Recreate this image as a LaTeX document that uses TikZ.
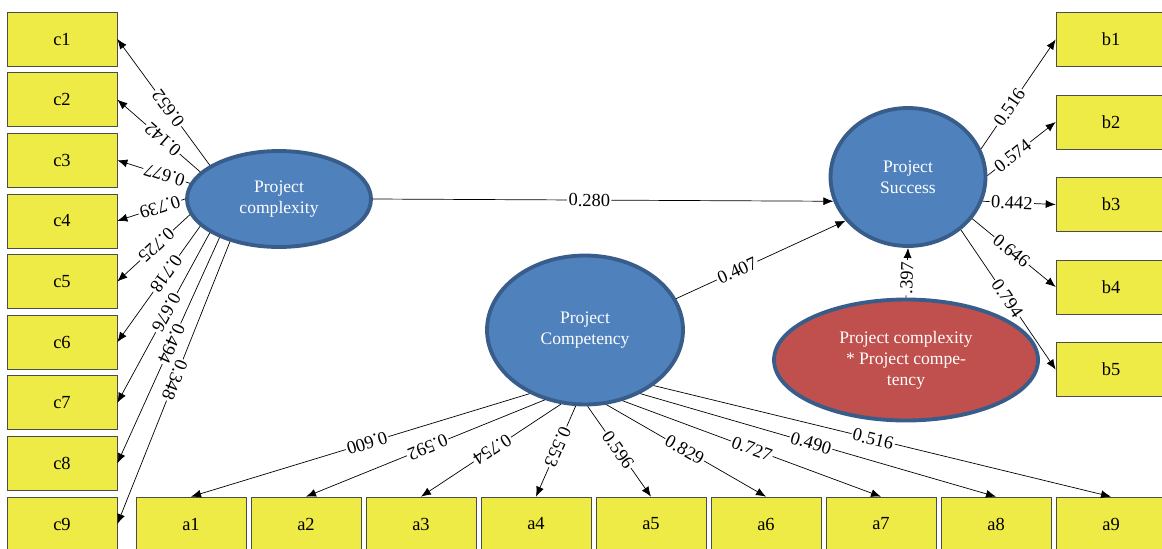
\documentclass[tikz,border=0pt]{standalone}
\usepackage{fontspec}
\setmainfont{Liberation Serif}
\usetikzlibrary{shapes.geometric,arrows.meta}
\definecolor{boxyellow}{RGB}{238,234,70}
\definecolor{latentblue}{RGB}{79,129,189}
\definecolor{latentedge}{RGB}{56,93,138}
\definecolor{latentred}{RGB}{192,80,77}

\begin{document}
\begin{tikzpicture}[x=0.02cm,y=-0.02cm,
    indicator/.style={draw=black!70,fill=boxyellow,minimum width=2.2cm,minimum height=1.08cm,inner sep=0pt,font=\fontsize{10.5}{12}\selectfont},
    latent/.style={ellipse,draw=latentedge,line width=2.2pt,fill=latentblue,text=white,align=center,inner sep=1pt,font=\fontsize{10}{12}\selectfont},
    loading/.style={-{Latex[length=2mm,width=1.6mm]},black},
    weight/.style={fill=white,inner sep=0.8pt,sloped,allow upside down,font=\fontsize{10.5}{12}\selectfont}]
    \clip (0,0) rectangle (1162,548);

    % Latent variables
    \node[latent,minimum width=3.68cm,minimum height=1.92cm] (pcx) at (279,199) {Project\\complexity};
    \node[latent,minimum width=3.1cm,minimum height=2.76cm] (ps) at (908,177) {Project\\Success};
    \node[latent,minimum width=3.92cm,minimum height=2.98cm] (pcomp) at (585,330) {Project\\Competency};
    \node[latent,fill=latentred,minimum width=5.28cm,minimum height=2.42cm] (inter) at (906,360) {Project complexity\\* Project compe-\\tency};

    % Indicators
    \foreach \i in {1,...,9} {
        \node[indicator] (c\i) at (62,{39+60.625*(\i-1)}) {c\i};
        \node[indicator] (a\i) at ({191+115*(\i-1)},524) {a\i};
    }
    \foreach \i in {1,...,5} {
        \node[indicator] (b\i) at (1111,{39.5+82.5*(\i-1)}) {b\i};
    }

    % Project complexity - loadings
    \foreach \i/\ang/\w/\p in {1/154/0.652/0.45,2/161/0.142/0.45,3/170/0.677/0.35,4/180/0.739/0.37,5/190/0.725/0.46,6/199/0.718/0.41,7/206/0.676/0.47,8/213/0.494/0.47,9/221/0.348/0.49} {
        \draw[loading] (pcx.\ang) -- node[weight,pos=\p] {\w} (c\i.east);
    }

    % Project Competency - loadings
    \foreach \i/\ang/\w/\p in {1/229/0.600/0.48,2/240/0.592/0.49,3/252/0.754/0.49,4/263/0.553/0.45,5/272/0.596/0.48,6/286/0.829/0.49,7/298/0.727/0.5,8/311/0.490/0.48,9/321/0.516/0.48} {
        \draw[loading] (pcomp.\ang) -- node[weight,pos=\p] {\w} (a\i.north);
    }

    % Project Success - loadings
    \foreach \i/\ang/\w/\p in {1/21/0.516/0.38,2/1/0.574/0.37,3/-18/0.442/0.4,4/-33/0.646/0.47,5/-45/0.794/0.49} {
        \draw[loading] (ps.\ang) -- node[weight,pos=\p] {\w} (b\i.west);
    }

    % Structural paths
    \draw[loading] (pcx.east) -- node[weight,pos=0.47] {0.280} (ps.198);
    \draw[loading] (pcomp.19) -- node[weight,pos=0.36] {0.407} (ps.215);
    \draw[loading] (inter.north) -- node[weight,pos=0.4] {.397} (ps.south);
\end{tikzpicture}
\end{document}
